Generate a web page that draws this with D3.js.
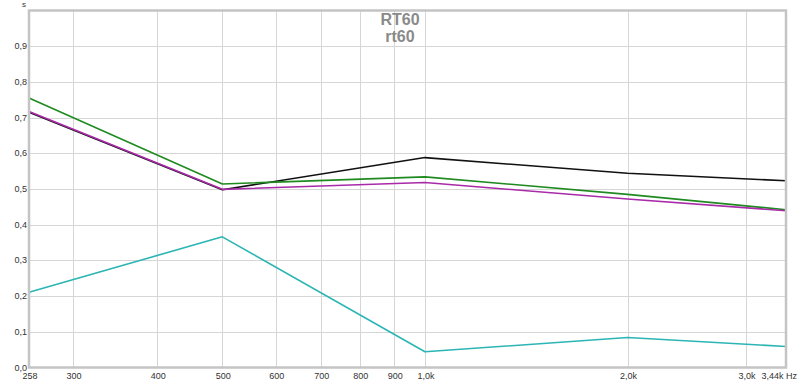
<!DOCTYPE html>
<html><head><meta charset="utf-8">
<script src="https://cdn.jsdelivr.net/npm/d3@7"></script>
<style>body{margin:0;background:#fff}svg{display:block}text{font-family:Arial,"Liberation Sans",sans-serif}</style>
</head><body><svg id="c" width="800" height="383"></svg>
<script>
const freqs = [258, 500, 1000, 2000, 3440];
const seriesBlack  = [0.715, 0.498, 0.588, 0.544, 0.523];
const seriesGreen  = [0.755, 0.514, 0.534, 0.485, 0.442];
const seriesPurple = [0.717, 0.499, 0.518, 0.472, 0.439];
const seriesCyan   = [0.211, 0.366, 0.044, 0.084, 0.059];
const yTicks = [0,0.1,0.2,0.3,0.4,0.5,0.6,0.7,0.8,0.9];
const yLabels = ["0,0","0,1","0,2","0,3","0,4","0,5","0,6","0,7","0,8","0,9"];
const xTicks = [258,300,400,500,600,700,800,900,1000,2000,3000,3440];
const xLabels = ["258","300","400","500","600","700","800","900","1,0k","2,0k","3,0k","3,44k Hz"];
const xGrid = [300,400,500,600,700,800,900,1000,2000,3000];
const titles = ["RT60","rt60"];

const svg = d3.select("#c");
const L=29, R=786, T=10.5, B=367.5;
const x = d3.scaleLog().domain([258,3440]).range([L,R]);
const y = d3.scaleLinear().domain([0,1]).range([B,T]);

// grid
svg.append("g").selectAll("line").data(yTicks.slice(1)).join("line")
  .attr("x1",L).attr("x2",R).attr("y1",d=>Math.round(y(d))+0.5).attr("y2",d=>Math.round(y(d))+0.5)
  .attr("stroke","#d6d6d6").attr("stroke-width",1);
svg.append("g").selectAll("line").data(xGrid).join("line")
  .attr("y1",T).attr("y2",B).attr("x1",d=>Math.round(x(d))+0.5).attr("x2",d=>Math.round(x(d))+0.5)
  .attr("stroke","#d6d6d6").attr("stroke-width",1);

// title
svg.append("text").attr("x",400).attr("y",25).attr("text-anchor","middle")
  .attr("font-size",16).attr("font-weight","bold").attr("fill","#8a8a8a").text(titles[0]);
svg.append("text").attr("x",400).attr("y",42).attr("text-anchor","middle")
  .attr("font-size",16).attr("font-weight","bold").attr("fill","#8a8a8a").text(titles[1]);

// lines
const line = d3.line().x((d,i)=>x(freqs[i])).y(d=>y(d));
const series = [
  {v:seriesCyan, c:"#2cb5b5"},
  {v:seriesBlack, c:"#111111"},
  {v:seriesGreen, c:"#1f8a1f"},
  {v:seriesPurple, c:"#a82aa8"}
];
svg.append("g").selectAll("path").data(series).join("path")
  .attr("d",d=>line(d.v)).attr("fill","none").attr("stroke",d=>d.c).attr("stroke-width",1.6)
  .attr("stroke-linejoin","round");

// frame
svg.append("rect").attr("x",L).attr("y",T).attr("width",R-L).attr("height",B-T)
  .attr("fill","none").attr("stroke","#c4c4c4").attr("stroke-width",2.5);

// y axis labels
svg.append("g").selectAll("text").data(yTicks).join("text")
  .attr("x",27).attr("y",d=>y(d)+3).attr("text-anchor","end")
  .attr("font-size",9).attr("fill","#333").text((d,i)=>yLabels[i]);
svg.append("text").attr("x",22).attr("y",7).attr("font-size",8).attr("fill","#333").text("s");

// x axis labels
svg.append("g").selectAll("text").data(xTicks).join("text")
  .attr("x",(d,i)=> i===xTicks.length-1 ? 797 : x(d)+1)
  .attr("y",379)
  .attr("text-anchor",(d,i)=> i===xTicks.length-1 ? "end" : "middle")
  .attr("font-size",9).attr("fill","#333").text((d,i)=>xLabels[i]);
</script></body></html>
